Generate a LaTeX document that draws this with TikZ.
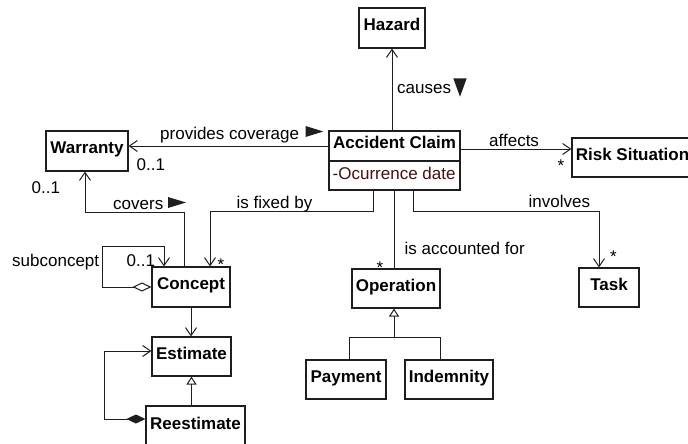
\documentclass[tikz,border=0pt]{standalone}
\usepackage{fontspec}
\setmainfont{Liberation Sans}
\usetikzlibrary{arrows.meta}
\definecolor{ink}{RGB}{30,30,30}
\definecolor{attrred}{RGB}{72,16,16}
\begin{document}
\begin{tikzpicture}[x=1pt,y=-1pt,
  every node/.style={inner sep=0pt, text height=0.72em, text depth=0.2em},
  cls/.style={draw=ink, line width=1.1pt, fill=white, text=black,
    font=\fontsize{17}{20}\selectfont\bfseries},
  lbl/.style={font=\fontsize{17}{20}\selectfont, text=black},
  link/.style={draw=ink, line width=1pt},
  nav/.style={link, -{Straight Barb[length=8pt,width=11pt,line width=1pt]}},
  gen/.style={link, -{Triangle[open,length=8pt,width=10pt,line width=1pt,fill=white]}},
  agg/.style={link, {Diamond[open,length=19pt,width=9pt,line width=1pt,fill=white]}-{Straight Barb[length=8pt,width=11pt,line width=1pt]}},
  comp/.style={link, {Diamond[length=19pt,width=9pt]}-{Straight Barb[length=8pt,width=11pt,line width=1pt]}},
  roletri/.style={fill=ink}
]
\useasboundingbox (0,0) rectangle (688,444);
\clip (0,0) rectangle (688,444);

% classes
\node[cls, minimum width=66pt, minimum height=40pt] (hazard) at (392,28) {Hazard};
\node[cls, minimum width=131pt, minimum height=30pt] (claim) at (394.5,146) {Accident Claim};
\node[cls, minimum width=131pt, minimum height=29pt] (claimattr) at (394.5,175.5) {};
\node[lbl, text=attrred, anchor=base west] (attrtext) at (332.5,179.8) {-Ocurrence date};
\node[cls, minimum width=121pt, minimum height=39pt] (risk) at (632.5,157.5) {Risk Situation};
\node[cls, minimum width=82pt, minimum height=40pt] (warranty) at (87,151) {Warranty};
\node[cls, minimum width=78pt, minimum height=40pt] (concept) at (191,287) {Concept};
\node[cls, minimum width=88pt, minimum height=39pt] (operation) at (396,288.5) {Operation};
\node[cls, minimum width=60pt, minimum height=39pt] (task) at (609,287.5) {Task};
\node[cls, minimum width=79pt, minimum height=39pt] (estimate) at (191.5,356.5) {Estimate};
\node[cls, minimum width=99pt, minimum height=41pt] (reestimate) at (195.5,426.5) {Reestimate};
\node[cls, minimum width=80pt, minimum height=39pt] (payment) at (346,379.5) {Payment};
\node[cls, minimum width=88pt, minimum height=39pt] (indemnity) at (449,379.5) {Indemnity};

% bend points of routed associations
\coordinate (fixjoint) at (210,211);
\coordinate (invjoint) at (599,211);
\coordinate (covjoint) at (85,212);
\coordinate (subjoint) at (102,246);
\coordinate (rejoint) at (104,351);
\coordinate (genjoint) at (394,337);

% associations
\draw[nav] (hazard.south |- claim.north) -- (hazard.south);
\draw[nav] (claim.west) -- (claim.west -| warranty.east);
\draw[nav] ([yshift=-3pt]claim.east) -- ([yshift=-3pt]claim.east -| risk.west);
\draw[nav] ([xshift=-21.5pt]claimattr.south) |- (fixjoint) -- (fixjoint |- concept.north);
\draw[link] (claimattr.south) -- (claimattr.south |- operation.north);
\draw[nav] ([xshift=18.5pt]claimattr.south) |- (invjoint) -- (invjoint |- task.north);
\draw[nav] ([xshift=-7pt]concept.north) |- (covjoint) -- (covjoint |- warranty.south);
\draw[agg] (concept.west) -| (subjoint) -| ([xshift=-27pt]concept.north);
\draw[nav] (concept.south) -- (concept.south |- estimate.north);
\draw[comp] ([yshift=7.5pt]reestimate.west) -| (rejoint) -- (rejoint -| estimate.west);

% generalizations
\draw[gen] (estimate.south |- reestimate.north) -- (estimate.south);
\draw[link] ([xshift=3pt]payment.north) |- ([xshift=-9pt]indemnity.north |- genjoint)
  -- ([xshift=-9pt]indemnity.north);
\draw[gen] (genjoint) -- (genjoint |- operation.south);

% association names
\node[lbl, anchor=base west] (causeslbl) at (397,93.5) {causes};
\node[lbl, anchor=base west] (provideslbl) at (160,139.5) {provides coverage};
\node[lbl, anchor=base west] (coverslbl) at (113,209) {covers};
\node[lbl, anchor=base west] (fixedlbl) at (236.5,208.5) {is fixed by};
\node[lbl, anchor=base west] (sublbl) at (12,266.7) {subconcept};
\node[lbl, anchor=base west] (affectslbl) at (489,146.7) {affects};
\node[lbl, anchor=base west] (involveslbl) at (528.5,207.3) {involves};
\node[lbl, anchor=base west] (accountedlbl) at (404.5,254) {is accounted for};

% reading-direction triangles
\fill[roletri] (453.3,78.3) -- (466.7,78.3) -- (460,96.7) -- cycle;
\fill[roletri] (305.5,126) -- (305.5,137) -- (323.3,131.5) -- cycle;
\fill[roletri] (168,197) -- (168,208) -- (186,202.5) -- cycle;

% multiplicities
\node[lbl, anchor=base west] (mwarr) at (136.5,170.5) {0..1};
\node[lbl, anchor=base west] (mcovers) at (31.5,193.3) {0..1};
\node[lbl, anchor=base west] (msub) at (126.5,266.5) {0..1};
\node[lbl, anchor=base] (mconcept) at (221,270.5) {*};
\node[lbl, anchor=base] (mrisk) at (561,171) {*};
\node[lbl, anchor=base] (moper) at (380,273) {*};
\node[lbl, anchor=base] (mtask) at (613.5,262) {*};
\end{tikzpicture}
\end{document}
